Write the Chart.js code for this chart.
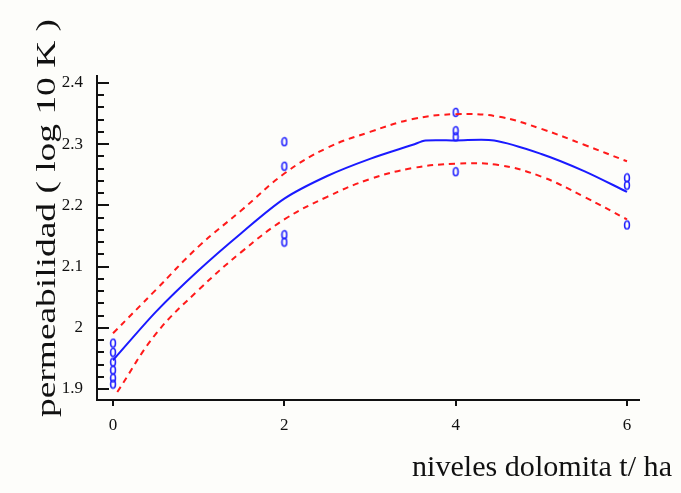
<!DOCTYPE html>
<html>
<head>
<meta charset="utf-8">
<script src="https://cdn.jsdelivr.net/npm/chart.js@4"></script>
<style>
  body { margin: 0; background: #fdfdfa; }
  #chart { display: block; }
</style>
</head>
<body>
<canvas id="chart" width="681" height="493"></canvas>
<script>
// observed values (dolomite dose t/ha vs log10 K)
const dosis = [0, 0, 0, 0, 0, 0, 2, 2, 2, 2, 4, 4, 4, 4, 6, 6, 6];
const permeab = [1.975, 1.96, 1.944, 1.931, 1.918, 1.908, 2.304, 2.264, 2.152, 2.140, 2.352, 2.322, 2.312, 2.255, 2.245, 2.233, 2.168];

// fitted curve
const ajusteX = [0, 0.5, 1, 1.5, 2, 2.5, 3, 3.5, 3.65, 4, 4.45, 5, 5.5, 6];
const ajusteY = [1.947, 2.026, 2.094, 2.155, 2.211, 2.248, 2.276, 2.299, 2.306, 2.306, 2.306, 2.284, 2.256, 2.222];

// confidence band
const superiorX = [0, 0.5, 1, 1.5, 2, 2.5, 3, 3.5, 4, 4.5, 5, 5.5, 6];
const superiorY = [1.991, 2.062, 2.133, 2.192, 2.252, 2.294, 2.320, 2.341, 2.349, 2.345, 2.325, 2.299, 2.272];
const inferiorX = [0.05, 0.5, 1, 1.5, 2, 2.5, 3, 3.5, 4, 4.5, 5, 5.5, 6];
const inferiorY = [1.895, 1.99, 2.062, 2.124, 2.177, 2.214, 2.243, 2.261, 2.268, 2.266, 2.247, 2.214, 2.177];

const xTicks = [0, 2, 4, 6];
const yTicks = [1.9, 2, 2.1, 2.2, 2.3, 2.4];
const yTickLabels = ['1.9', '2', '2.1', '2.2', '2.3', '2.4'];

const tituloY = 'permeabilidad ( log 10 K )';
const tituloX = 'niveles dolomita t/ ha';

const toXY = (xs, ys) => xs.map((x, i) => ({ x: x, y: ys[i] }));

// small "o" glyph used as the point marker
function makeMarker() {
    const c = document.createElement('canvas');
    c.width = 8;
    c.height = 11;
    const g = c.getContext('2d');
    g.strokeStyle = '#1f1fff';
    g.lineWidth = 1.6;
    g.beginPath();
    g.ellipse(4, 5.5, 2.4, 4, 0, 0, Math.PI * 2);
    g.stroke();
    return c;
}

const serif = "'Liberation Serif', 'DejaVu Serif', serif";

const axesPlugin = {
    id: 'ejes',
    afterDatasetsDraw(chart) {
        const ctx = chart.ctx;
        const xs = chart.scales.x;
        const ys = chart.scales.y;
        const area = chart.chartArea;
        ctx.save();
        ctx.strokeStyle = '#111';
        ctx.fillStyle = '#111';
        ctx.lineWidth = 2;

        // axis lines
        ctx.beginPath();
        ctx.moveTo(area.left, area.top);
        ctx.lineTo(area.left, area.bottom);
        ctx.lineTo(area.right, area.bottom);
        ctx.stroke();

        // y ticks pointing inward, minor every 0.02
        for (let v = 1.9; v <= 2.4001; v += 0.02) {
            const y = Math.round(ys.getPixelForValue(v));
            const major = Math.abs(v * 10 - Math.round(v * 10)) < 0.001;
            ctx.beginPath();
            ctx.moveTo(area.left, y);
            ctx.lineTo(area.left + (major ? 12 : 7), y);
            ctx.stroke();
        }

        // x ticks pointing down
        xTicks.forEach(v => {
            const x = Math.round(xs.getPixelForValue(v));
            ctx.beginPath();
            ctx.moveTo(x, area.bottom);
            ctx.lineTo(x, area.bottom + 6);
            ctx.stroke();
        });

        // tick labels
        ctx.font = '17px ' + serif;
        ctx.textAlign = 'right';
        ctx.textBaseline = 'middle';
        yTicks.forEach((v, i) => {
            ctx.fillText(yTickLabels[i], area.left - 14, ys.getPixelForValue(v));
        });
        ctx.textAlign = 'center';
        xTicks.forEach(v => {
            ctx.fillText(String(v), xs.getPixelForValue(v), area.bottom + 26);
        });

        // y title, rotated
        ctx.save();
        ctx.translate(48, 218);
        ctx.rotate(-Math.PI / 2);
        ctx.font = '28px ' + serif;
        const wY = ctx.measureText(tituloY).width;
        ctx.scale(398 / wY, 1);
        ctx.textAlign = 'center';
        ctx.textBaseline = 'middle';
        ctx.fillText(tituloY, 0, 0);
        ctx.restore();

        // x title
        ctx.save();
        ctx.font = '30px ' + serif;
        const wX = ctx.measureText(tituloX).width;
        ctx.translate(412, 476);
        ctx.scale(260 / wX, 1);
        ctx.textAlign = 'left';
        ctx.textBaseline = 'alphabetic';
        ctx.fillText(tituloX, 0, 0);
        ctx.restore();

        ctx.restore();
    }
};

const ctx = document.getElementById('chart').getContext('2d');
new Chart(ctx, {
    type: 'scatter',
    data: {
        datasets: [
            {
                label: 'superior',
                data: toXY(superiorX, superiorY),
                showLine: true,
                borderColor: '#ff1a1a',
                borderWidth: 2,
                borderDash: [6, 5],
                pointRadius: 0,
                tension: 0.4
            },
            {
                label: 'inferior',
                data: toXY(inferiorX, inferiorY),
                showLine: true,
                borderColor: '#ff1a1a',
                borderWidth: 2,
                borderDash: [6, 5],
                pointRadius: 0,
                tension: 0.4
            },
            {
                label: 'ajuste',
                data: toXY(ajusteX, ajusteY),
                showLine: true,
                borderColor: '#1a1aff',
                borderWidth: 2,
                pointRadius: 0,
                tension: 0.3
            },
            {
                label: 'observado',
                data: toXY(dosis, permeab),
                showLine: false,
                pointStyle: makeMarker(),
                pointRadius: 4
            }
        ]
    },
    options: {
        responsive: false,
        animation: false,
        layout: { padding: { left: 97, right: 41, top: 75, bottom: 93 } },
        plugins: {
            legend: { display: false },
            tooltip: { enabled: false }
        },
        scales: {
            x: { type: 'linear', display: false, min: -0.187, max: 6.152 },
            y: { type: 'linear', display: false, min: 1.882, max: 2.413 }
        }
    },
    plugins: [axesPlugin]
});
</script>
</body>
</html>
